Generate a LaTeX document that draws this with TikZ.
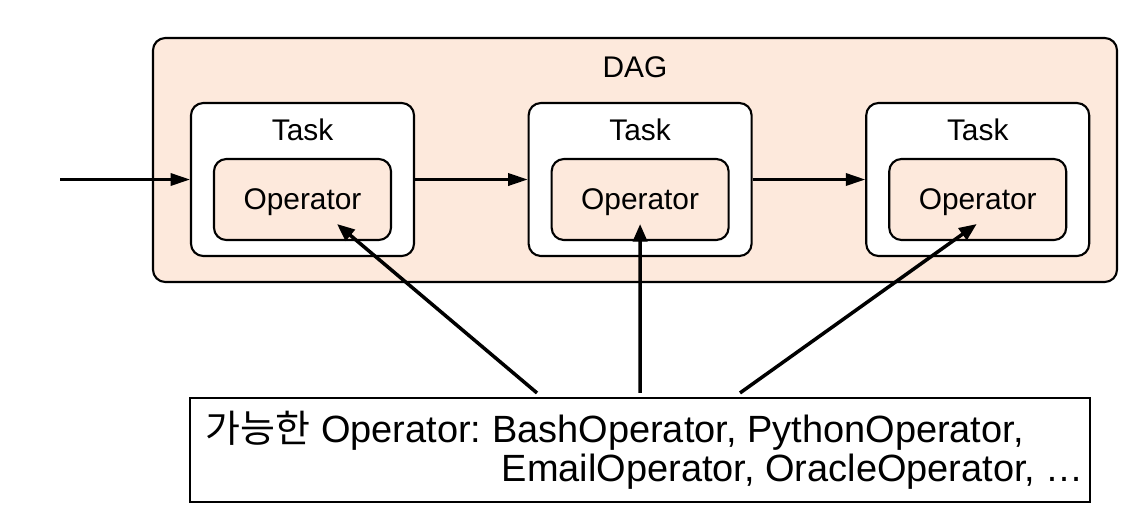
\documentclass[tikz,border=0pt]{standalone}
\usepackage{fontspec}
\setmainfont{Liberation Sans}
\newfontfamily\krfont{Noto Sans CJK KR}
\usepackage{tikz}
\usetikzlibrary{positioning}
\usetikzlibrary{arrows.meta}
\definecolor{peach}{HTML}{FDE9DC}
\frenchspacing

\begin{document}
\begin{tikzpicture}[
      dagbox/.style={draw,line width=1.2pt,rounded corners=7pt,fill=peach,
        minimum width=19.28cm,minimum height=4.88cm},
      taskbox/.style={draw,line width=1.2pt,rounded corners=7pt,fill=white,
        minimum width=4.46cm,minimum height=3.06cm},
      opbox/.style={draw,line width=1.2pt,rounded corners=7pt,fill=peach,
        minimum width=3.54cm,minimum height=1.62cm,text height=2.1ex,text depth=0pt,
        font=\fontsize{17}{20}\selectfont},
      lbl/.style={font=\fontsize{17}{20}\selectfont},
      listbox/.style={draw,line width=1.2pt,fill=white,minimum width=18cm,
        minimum height=2.08cm,align=left,font=\fontsize{21.6}{22.5}\selectfont},
      flow/.style={line width=1.4pt,-{Triangle[length=11pt,width=7pt]}},
      use/.style={line width=2pt,-{Triangle[length=10pt,width=8pt]}},
    ]
        \useasboundingbox (0,0) rectangle (22.86,-10.32);
        \node[dagbox] (dag) at (12.7,-3.2) {};
        \node[lbl] (daglbl) at (12.7,-1.34) {DAG};

        \node[taskbox] (t1) at (6.05,-3.59) {};
        \node[taskbox,right=2.25cm of t1] (t2) {};
        \node[taskbox,right=2.25cm of t2] (t3) {};

        \foreach \i in {1,2,3} {
            \node[lbl] (tl\i) at ([yshift=-0.56cm]t\i.north) {Task};
            \node[opbox,below=1.12cm of t\i.north] (o\i) {Operator};
        }

        \coordinate (in) at (1.2,-3.59);
        \draw[flow] (in) -- (t1);
        \draw[flow] (t1) -- (t2);
        \draw[flow] (t2) -- (t3);

        \node[listbox] (ops) at (12.8,-9.0) {\hspace{5.6pt}{\krfont 가능한} Operator: BashOperator, PythonOperator,\\
            \phantom{{\krfont 가능한} Operator: }\hspace{11.1pt}EmailOperator, OracleOperator, \dots};

        \coordinate (s1) at ([xshift=-2.06cm,yshift=0.08cm]ops.north);
        \coordinate (s2) at ([yshift=0.08cm]ops.north);
        \coordinate (s3) at ([xshift=2cm,yshift=0.08cm]ops.north);
        \coordinate (e1) at ([xshift=0.69cm,yshift=-0.49cm]o1.center);
        \coordinate (e2) at ([yshift=-0.49cm]o2.center);
        \coordinate (e3) at ([xshift=-0.02cm,yshift=-0.49cm]o3.center);
        \draw[use] (s1) -- (e1);
        \draw[use] (s2) -- (e2);
        \draw[use] (s3) -- (e3);
    \end{tikzpicture}
\end{document}
